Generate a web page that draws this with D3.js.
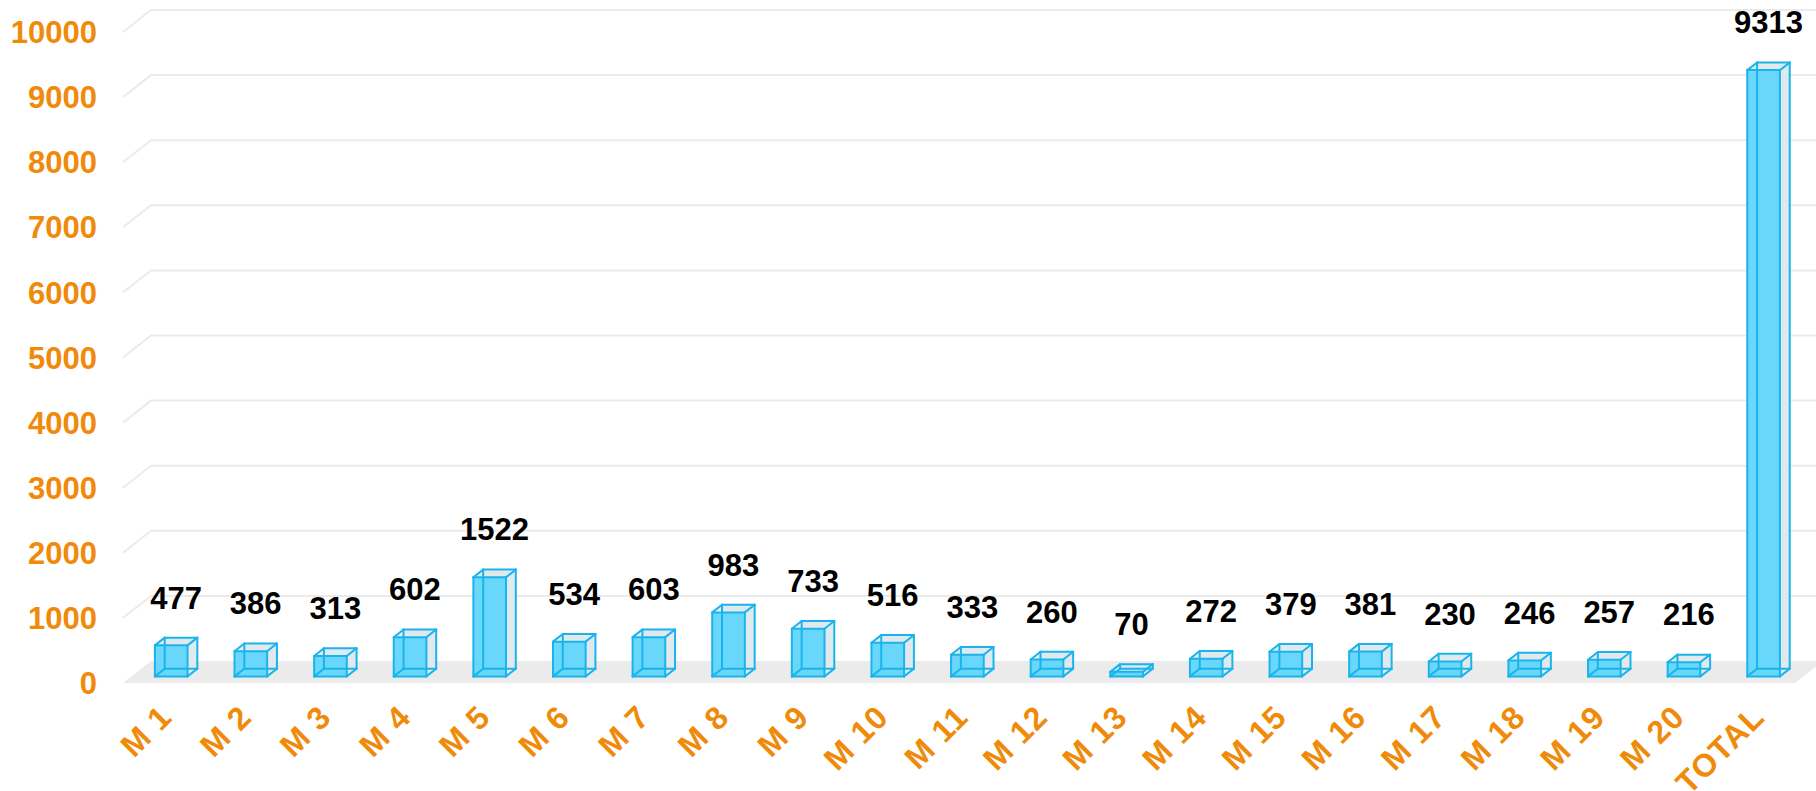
<!DOCTYPE html>
<html>
<head>
<meta charset="utf-8">
<script src="https://cdn.jsdelivr.net/npm/d3@7"></script>
<style>
  body { margin: 0; background: #fff; }
  svg { display: block; font-family: "Liberation Sans", Arial, sans-serif; }
</style>
</head>
<body>
<svg id="chart"></svg>
<script>
// data
const categories = ["M 1","M 2","M 3","M 4","M 5","M 6","M 7","M 8","M 9","M 10",
  "M 11","M 12","M 13","M 14","M 15","M 16","M 17","M 18","M 19","M 20","TOTAL"];
const values = [477,386,313,602,1522,534,603,983,733,516,333,260,70,272,379,381,230,246,257,216,9313];
const yTicks = [0,1000,2000,3000,4000,5000,6000,7000,8000,9000,10000];

const W = 1816, H = 791;
const orange = "#f08a0a";
const lineBlue = "#1ab4ec";
const faceBlue = "#62d6fa";
const sideGrey = "#dfe8ed";

// front plane of the 3d plot, and the depth offset to the back wall
const x0 = 123, x1 = 1795;
const depth = { dx: 28, dy: -22 };
const tFront = 0.3, tBack = 0.65;

const svg = d3.select("#chart").attr("width", W).attr("height", H);

const xScale = d3.scaleBand().domain(categories).range([x0, x1]).paddingInner(0).paddingOuter(0);
const yScale = d3.scaleLinear().domain([0, 10000]).range([683, 32]);

function pt(x, v, t) {
  return [x + t * depth.dx, yScale(v) + t * depth.dy];
}

// floor
const floorPts = [pt(x0, 0, 0), pt(x1, 0, 0), pt(x1, 0, 1), pt(x0, 0, 1)];
svg.append("polygon")
  .attr("points", floorPts.map(p => p.join(",")).join(" "))
  .attr("fill", "#ebebeb");

// gridlines: side wall + back wall
svg.append("g").selectAll("polyline")
  .data(yTicks.filter(d => d > 0))
  .join("polyline")
  .attr("points", d => [pt(x0, d, 0), pt(x0, d, 1), pt(x1, d, 1)].map(p => p.join(",")).join(" "))
  .attr("fill", "none")
  .attr("stroke", "#ebebeb")
  .attr("stroke-width", 2);

// y axis labels
svg.append("g").selectAll("text")
  .data(yTicks)
  .join("text")
  .attr("x", 97)
  .attr("y", d => yScale(d))
  .attr("dy", "0.36em")
  .attr("text-anchor", "end")
  .attr("fill", orange)
  .style("font-size", "31px")
  .style("font-weight", "bold")
  .text(d => d);

// bars as boxes
const bw = xScale.bandwidth() * 0.41;
const bars = svg.append("g").selectAll("g")
  .data(categories.map((c, i) => ({ cat: c, val: values[i] })))
  .join("g");

function poly(pts) { return pts.map(p => p.join(",")).join(" "); }

bars.each(function (d) {
  const g = d3.select(this);
  const cx = xScale(d.cat) + xScale.bandwidth() / 2;
  const l = cx - bw / 2, r = cx + bw / 2;
  const fbl = pt(l, 0, tFront), fbr = pt(r, 0, tFront), ftl = pt(l, d.val, tFront), ftr = pt(r, d.val, tFront);
  const bbl = pt(l, 0, tBack), bbr = pt(r, 0, tBack), btl = pt(l, d.val, tBack), btr = pt(r, d.val, tBack);

  // back, side, top faces
  g.append("polygon").attr("points", poly([bbl, bbr, btr, btl])).attr("fill", sideGrey).attr("opacity", 0.8);
  g.append("polygon").attr("points", poly([fbr, bbr, btr, ftr])).attr("fill", sideGrey).attr("opacity", 0.8);
  g.append("polygon").attr("points", poly([ftl, ftr, btr, btl])).attr("fill", sideGrey).attr("opacity", 0.8);
  // front face
  g.append("polygon").attr("points", poly([fbl, fbr, ftr, ftl])).attr("fill", faceBlue).attr("opacity", 0.95);

  const edges = [
    [fbl, fbr], [fbr, ftr], [ftr, ftl], [ftl, fbl],
    [bbl, bbr], [bbr, btr], [btr, btl], [btl, bbl],
    [fbl, bbl], [fbr, bbr], [ftr, btr], [ftl, btl]
  ];
  g.selectAll("line").data(edges).join("line")
    .attr("x1", e => e[0][0]).attr("y1", e => e[0][1])
    .attr("x2", e => e[1][0]).attr("y2", e => e[1][1])
    .attr("stroke", lineBlue)
    .attr("stroke-width", 2)
    .attr("stroke-linecap", "round");

  // value label
  const mid = pt(cx, d.val, (tFront + tBack) / 2);
  g.append("text")
    .attr("x", mid[0])
    .attr("y", pt(cx, d.val, tFront)[1] - 48)
    .attr("dy", "0.36em")
    .attr("text-anchor", "middle")
    .style("font-size", "31px")
    .style("font-weight", "bold")
    .attr("fill", "#000")
    .text(d.val);
});

// category labels
svg.append("g").selectAll("text")
  .data(categories)
  .join("text")
  .attr("transform", d => {
    const cx = xScale(d) + xScale.bandwidth() / 2 + 11;
    return `translate(${cx},719) rotate(-45)`;
  })
  .attr("text-anchor", "end")
  .attr("fill", orange)
  .style("font-size", "32px")
  .style("font-weight", "bold")
  .style("letter-spacing", "1px")
  .text(d => d);
</script>
</body>
</html>
